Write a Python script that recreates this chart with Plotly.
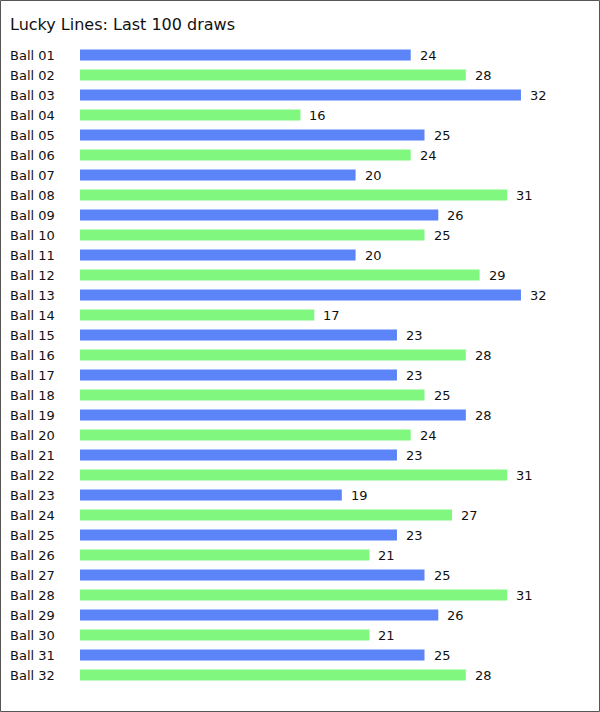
import plotly.graph_objects as go

categories = [f"Ball {i:02d}" for i in range(1, 33)]
values = [24, 28, 32, 16, 25, 24, 20, 31, 26, 25, 20, 29, 32, 17, 23, 28,
          23, 25, 28, 24, 23, 31, 19, 27, 23, 21, 25, 31, 26, 21, 25, 28]
palette = ["#5a84f8", "#80f880"]
colors = [palette[i % 2] for i in range(len(values))]
title_text = "Lucky Lines: Last 100 draws"

W, H = 600, 712
ML, MR, MT, MB = 80, 25, 45, 27
PW = W - ML - MR
PH = H - MT - MB
FONT = "Verdana, DejaVu Sans, sans-serif"
LEFT = -(ML - 8) / PW

fig = go.Figure(go.Bar(
    x=values, y=categories, orientation="h",
    marker=dict(color=colors, line=dict(width=0)),
    hoverinfo="skip",
))

annotations = []
for c, v in zip(categories, values):
    annotations.append(dict(x=v, y=c, xref="x", yref="y", text=str(v),
                            showarrow=False, xanchor="left", xshift=7,
                            font=dict(family=FONT, size=13, color="#111")))
    annotations.append(dict(x=LEFT, y=c, xref="paper", yref="y",
                            text=c, showarrow=False, xanchor="left",
                            font=dict(family=FONT, size=13, color="#111")))
annotations.append(dict(x=LEFT, y=1 + (MT - 24) / PH, xref="paper",
                        yref="paper", text=title_text, showarrow=False,
                        xanchor="left", yanchor="middle",
                        font=dict(family=FONT, size=16, color="#111")))

fig.update_layout(
    width=W, height=H,
    margin=dict(l=ML, r=MR, t=MT, b=MB, pad=0),
    paper_bgcolor="white", plot_bgcolor="white",
    bargap=0.45,
    showlegend=False,
    xaxis=dict(range=[0, PW / 13.78], visible=False, fixedrange=True),
    yaxis=dict(autorange="reversed", showticklabels=False, showgrid=False,
               zeroline=False, ticks="", fixedrange=True),
    annotations=annotations,
    shapes=[dict(type="rect", xref="paper", yref="paper",
                 x0=(-ML + 0.5) / PW, x1=(W - ML - 0.5) / PW,
                 y0=(-MB + 0.5) / PH, y1=1 + (MT - 0.5) / PH,
                 line=dict(color="#555", width=1), layer="above")],
)

fig.write_html("out.html", config={"displayModeBar": False})
